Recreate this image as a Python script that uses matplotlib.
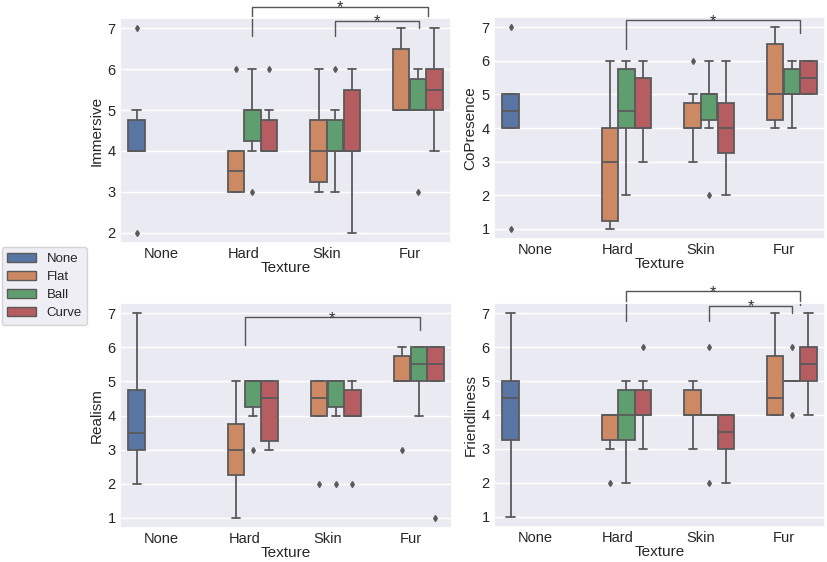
import matplotlib
import matplotlib.pyplot as plt
import seaborn as sns
from matplotlib.patches import Patch

matplotlib.use('AGG')

textures = ["None", "Hard", "Skin", "Fur"]
conditions = ["None", "Flat", "Ball", "Curve"]

# box order: (texture, condition)
groups = [("None", "None"),
          ("Hard", "Flat"), ("Hard", "Ball"), ("Hard", "Curve"),
          ("Skin", "Flat"), ("Skin", "Ball"), ("Skin", "Curve"),
          ("Fur", "Flat"), ("Fur", "Ball"), ("Fur", "Curve")]

# (whislo, q1, med, q3, whishi, fliers)
immersive = [(4, 4, 4, 4.75, 5, [7, 2]),
             (3, 3, 3.5, 4, 4, [6]),
             (4, 4.25, 5, 5, 6, [3]),
             (4, 4, 4, 4.75, 5, [6]),
             (3, 3.25, 4, 4.75, 6, []),
             (3, 4, 4, 4.75, 5, [6]),
             (2, 4, 4, 5.5, 6, []),
             (5, 5, 5, 6.5, 7, []),
             (5, 5, 5, 5.75, 6, [3]),
             (4, 5, 5.5, 6, 7, [])]

copresence = [(4, 4, 4.5, 5, 5, [7, 1]),
              (1, 1.25, 3, 4, 6, []),
              (2, 4, 4.5, 5.75, 6, []),
              (3, 4, 4, 5.5, 6, []),
              (3, 4, 4, 4.75, 5, [6]),
              (4, 4.25, 5, 5, 6, [2]),
              (2, 3.25, 4, 4.75, 6, []),
              (4, 4.25, 5, 6.5, 7, []),
              (4, 5, 5, 5.75, 6, []),
              (5, 5, 5.5, 6, 6, [])]

realism = [(2, 3, 3.5, 4.75, 7, []),
           (1, 2.25, 3, 3.75, 5, []),
           (4, 4.25, 5, 5, 5, [3]),
           (3, 3.25, 4.5, 5, 5, []),
           (4, 4, 4.5, 5, 5, [2]),
           (4, 4.25, 5, 5, 5, [2]),
           (4, 4, 4, 4.75, 5, [2]),
           (5, 5, 5, 5.75, 6, [3]),
           (4, 5, 5.5, 6, 6, []),
           (5, 5, 5.5, 6, 6, [1])]

friendliness = [(1, 3.25, 4.5, 5, 7, []),
                (3, 3.25, 4, 4, 4, [2]),
                (2, 3.25, 4, 4.75, 5, []),
                (3, 4, 4, 4.75, 5, [6]),
                (3, 4, 4, 4.75, 5, []),
                (4, 4, 4, 4, 4, [6, 2]),
                (2, 3, 3.5, 4, 4, []),
                (4, 4, 4.5, 5.75, 7, []),
                (5, 5, 5, 5, 5, [6, 4]),
                (4, 5, 5.5, 6, 7, [])]

# significance brackets: (x_left, x_right, y_top, y_left_end, y_right_end)
immersive_sig = [(1.1, 3.22, 7.53, 6.81, 7.24), (2.1, 3.11, 7.18, 6.81, 7.0)]
copresence_sig = [(1.1, 3.2, 7.2, 6.36, 6.82)]
realism_sig = [(1.0, 3.12, 6.88, 6.06, 6.52)]
friendliness_sig = [(1.1, 3.2, 7.65, 6.78, 7.25), (2.1, 3.1, 7.22, 6.78, 7.0)]

panels = [("Immersive", immersive, immersive_sig, (1.75, 7.25), [2, 3, 4, 5, 6, 7]),
          ("CoPresence", copresence, copresence_sig, (0.7, 7.3), [1, 2, 3, 4, 5, 6, 7]),
          ("Realism", realism, realism_sig, (0.7, 7.3), [1, 2, 3, 4, 5, 6, 7]),
          ("Friendliness", friendliness, friendliness_sig, (0.7, 7.3), [1, 2, 3, 4, 5, 6, 7])]

sns.set_theme(style="darkgrid")
plt.rcParams['font.family'] = ['Liberation Sans', 'DejaVu Sans']

palette = [sns.desaturate(c, 0.75) for c in sns.color_palette("deep", 4)]
line_gray = "#5a5a5a"

fig = plt.figure(figsize=(8.27, 5.62), dpi=100)
W, H = 827, 562
rects = [(120, 18, 451, 243), (494, 17, 825, 239),
         (120, 303, 452, 528), (494, 303, 825, 527)]

for (name, rows, sigs, ylim, yticks), (x0, y0, x1, y1) in zip(panels, rects):
    ax = fig.add_axes([x0 / W, 1 - y1 / H, (x1 - x0) / W, (y1 - y0) / H])
    stats, positions, colors = [], [], []
    for (tex, cond), (lo, q1, med, q3, hi, fl) in zip(groups, rows):
        stats.append(dict(whislo=lo, q1=q1, med=med, q3=q3, whishi=hi, fliers=fl))
        ci = conditions.index(cond)
        positions.append(textures.index(tex) + (ci - 1.5) * 0.2)
        colors.append(palette[ci])
    bp = ax.bxp(stats, positions=positions, widths=0.196, patch_artist=True,
                manage_ticks=False,
                boxprops=dict(edgecolor=line_gray, linewidth=1.3),
                medianprops=dict(color=line_gray, linewidth=1.3),
                whiskerprops=dict(color=line_gray, linewidth=1.3),
                capprops=dict(color=line_gray, linewidth=1.3),
                flierprops=dict(marker='d', markersize=3, markerfacecolor=line_gray,
                                markeredgecolor=line_gray, linestyle='none'))
    for patch, c in zip(bp['boxes'], colors):
        patch.set_facecolor(c)

    ax.set_xlim(-0.5, 3.5)
    ax.set_ylim(*ylim)
    ax.set_yticks(yticks)
    ax.set_xticks(range(len(textures)))
    ax.set_xticklabels(textures)
    ax.xaxis.grid(False)
    ax.tick_params(labelsize=10.5, length=0, pad=3)
    ax.set_xlabel("Texture", fontsize=11, labelpad=0)
    ax.set_ylabel(name, fontsize=11, labelpad=3)

    for xl, xr, yt, yle, yre in sigs:
        ax.plot([xl, xl, xr, xr], [yle, yt, yt, yre], color="#555555",
                linewidth=1.0, clip_on=False)
        # star sits just on top of the bracket line
        ax.annotate("*", xy=((xl + xr) / 2, yt), xytext=(0, 4.6),
                    textcoords='offset points', ha='center', va='top',
                    fontsize=12, color="#333333", annotation_clip=False)

handles = [Patch(facecolor=c, edgecolor=line_gray, label=l)
           for c, l in zip(palette, conditions)]
fig.legend(handles=handles, loc='upper left', bbox_to_anchor=(0.002, 0.56),
           fontsize=9.5, frameon=True, handlelength=2.2, borderaxespad=0,
           labelspacing=0.45)

fig.savefig("out.png", dpi=100)
